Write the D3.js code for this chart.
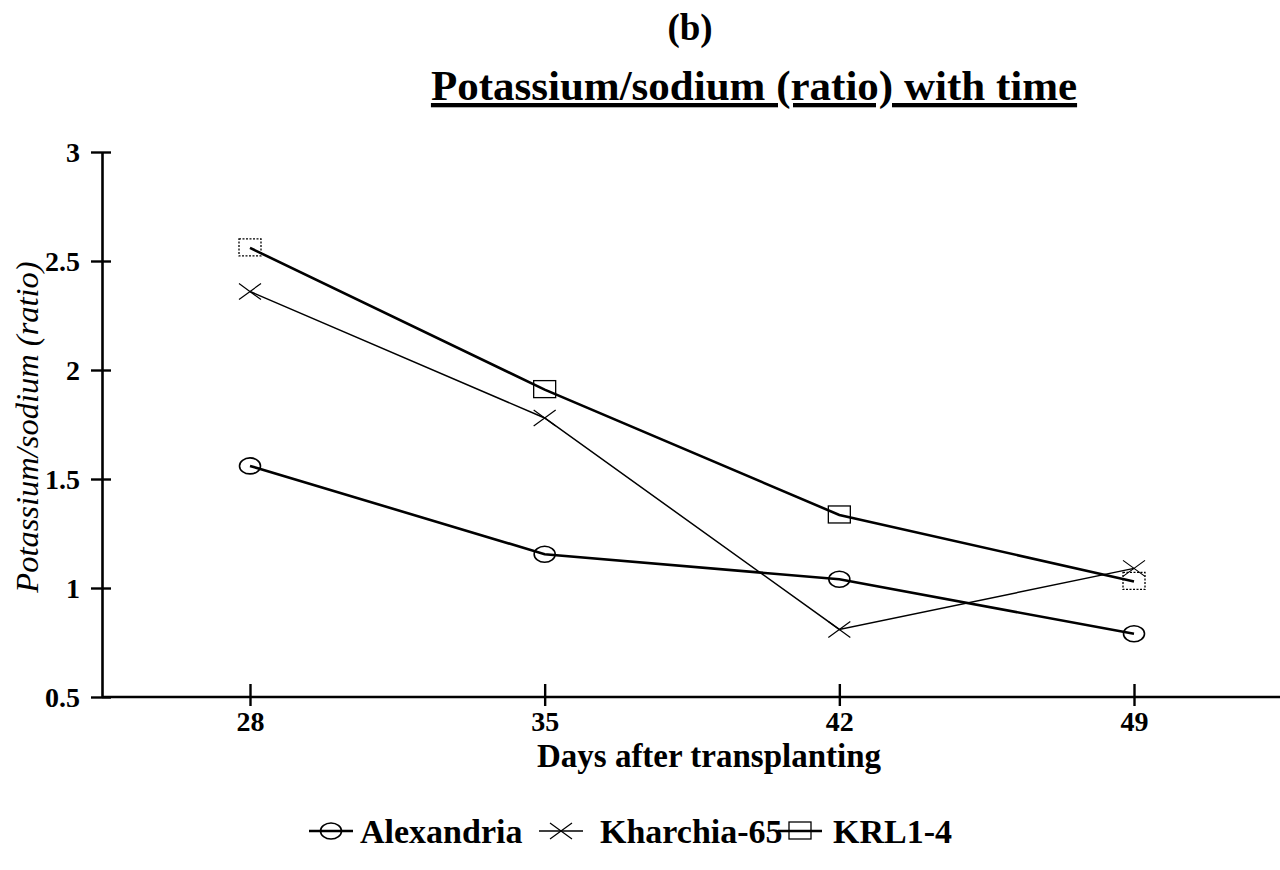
<!DOCTYPE html>
<html>
<head>
<meta charset="utf-8">
<script src="https://cdn.jsdelivr.net/npm/d3@7"></script>
<style>
  html, body { margin: 0; padding: 0; background: #fff; }
  svg text { font-family: "Liberation Serif", "Times New Roman", Times, serif; }
</style>
</head>
<body>
<svg id="chart" width="1280" height="870"></svg>
<script>
// Days after transplanting (x categories)
const days = ["28", "35", "42", "49"];
// Potassium/sodium ratio per cultivar
const alexandria = [1.56, 1.155, 1.04, 0.79];
const kharchia65 = [2.36, 1.78, 0.81, 1.09];
const krl14 = [2.56, 1.91, 1.335, 1.03];
// Y axis tick values
const yTicks = [0.5, 1, 1.5, 2, 2.5, 3];

const serif = "'Liberation Serif', 'Times New Roman', Times, serif";

const seriesList = [
  { name: "Alexandria", values: alexandria, marker: "circle", width: 2.6 },
  { name: "Kharchia-65", values: kharchia65, marker: "cross", width: 1.5 },
  { name: "KRL1-4", values: krl14, marker: "square", width: 2.6 }
];

const svg = d3.select("#chart");
const plot = { left: 102, right: 1280, top: 152, bottom: 697 };

const x = d3.scalePoint().domain(days).range([250, 1134]);
const y = d3.scaleLinear().domain([0.5, 3]).range([plot.bottom, plot.top]);

// Titles
svg.append("text")
  .attr("x", 690).attr("y", 40)
  .attr("text-anchor", "middle")
  .attr("font-family", serif)
  .attr("font-size", 37).attr("font-weight", "bold")
  .text("(b)");

svg.append("text")
  .attr("x", 754).attr("y", 100)
  .attr("text-anchor", "middle")
  .attr("font-family", serif)
  .attr("font-size", 43).attr("font-weight", "bold")
  .attr("text-decoration", "underline")
  .text("Potassium/sodium (ratio) with time");

// Y axis
const yAxis = svg.append("g")
  .attr("transform", `translate(${plot.left},0)`)
  .call(d3.axisLeft(y).tickValues(yTicks).tickFormat(d3.format("")).tickSize(10).tickSizeOuter(0));
yAxis.attr("font-family", serif);
yAxis.select(".domain").attr("stroke", "#000").attr("stroke-width", 2.6);
yAxis.selectAll(".tick line").attr("x2", 9).attr("x1", -11).attr("stroke", "#000").attr("stroke-width", 2.4);
yAxis.selectAll(".tick text")
  .attr("x", -22).attr("dy", "0.34em")
  .attr("font-family", serif)
  .attr("font-size", 28).attr("font-weight", "bold").attr("fill", "#000");

// X axis
const xAxis = svg.append("g")
  .attr("transform", `translate(0,${plot.bottom})`)
  .call(d3.axisBottom(x).tickSize(10).tickSizeOuter(0));
xAxis.attr("font-family", serif);
xAxis.select(".domain").attr("d", `M${plot.left},0H${plot.right}`)
  .attr("stroke", "#000").attr("stroke-width", 2.6);
xAxis.selectAll(".tick line").attr("y1", -13).attr("y2", 9).attr("stroke", "#000").attr("stroke-width", 2.4);
xAxis.selectAll(".tick text")
  .attr("y", 14).attr("dy", "0.71em")
  .attr("font-family", serif)
  .attr("font-size", 28).attr("font-weight", "bold").attr("fill", "#000");

// Axis titles
svg.append("text")
  .attr("transform", "translate(38,427) rotate(-90)")
  .attr("text-anchor", "middle")
  .attr("font-family", serif)
  .attr("font-size", 32.5).attr("font-style", "italic")
  .text("Potassium/sodium (ratio)");

svg.append("text")
  .attr("x", 709).attr("y", 767)
  .attr("text-anchor", "middle")
  .attr("font-family", serif)
  .attr("font-size", 33).attr("font-weight", "bold")
  .text("Days after transplanting");

// Marker drawing
function drawMarker(g, type, cx, cy, dotted) {
  if (type === "circle") {
    g.append("ellipse").attr("cx", cx).attr("cy", cy).attr("rx", 10.5).attr("ry", 8)
      .attr("fill", "none").attr("stroke", "#000").attr("stroke-width", 1.6);
  } else if (type === "square") {
    g.append("rect").attr("x", cx - 11).attr("y", cy - 9).attr("width", 22).attr("height", 17)
      .attr("fill", "none").attr("stroke", "#000").attr("stroke-width", 1.3)
      .attr("stroke-dasharray", dotted ? "2,1.5" : null);
  } else {
    g.append("path")
      .attr("d", `M${cx - 11},${cy + 8}L${cx + 11},${cy - 8}M${cx - 11},${cy - 8}L${cx + 11},${cy + 8}`)
      .attr("fill", "none").attr("stroke", "#000").attr("stroke-width", 1.2);
  }
}

// Series lines and markers
const line = d3.line().x((d, i) => x(days[i])).y(d => y(d));
seriesList.forEach(s => {
  const g = svg.append("g");
  g.append("path").datum(s.values).attr("d", line)
    .attr("fill", "none").attr("stroke", "#000").attr("stroke-width", s.width);
  s.values.forEach((v, i) => {
    const edge = i === 0 || i === s.values.length - 1;
    drawMarker(g, s.marker, x(days[i]), y(v), edge);
  });
});

// Legend
const legendItems = [
  { sx: 309, tx: 360 },
  { sx: 539, tx: 600 },
  { sx: 778, tx: 833 }
];
seriesList.forEach((s, i) => {
  const g = svg.append("g");
  const ly = 831;
  const pos = legendItems[i];
  g.append("line").attr("x1", pos.sx).attr("x2", pos.sx + 44).attr("y1", ly).attr("y2", ly)
    .attr("stroke", "#000").attr("stroke-width", s.width);
  drawMarker(g, s.marker, pos.sx + 22, ly, false);
  g.append("text").attr("x", pos.tx).attr("y", ly + 12)
    .attr("font-family", serif)
    .attr("font-size", 34).attr("font-weight", "bold")
    .text(s.name);
});
</script>
</body>
</html>
